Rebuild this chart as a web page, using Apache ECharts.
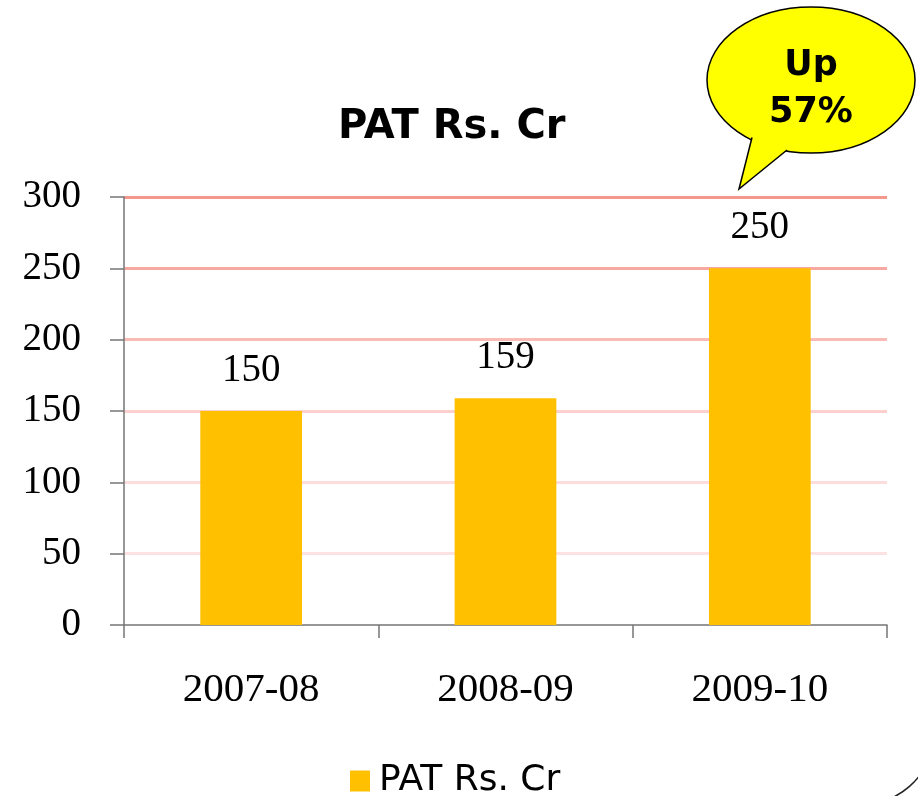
<!DOCTYPE html>
<html>
<head>
<meta charset="utf-8">
<script src="https://cdn.jsdelivr.net/npm/echarts@6/dist/echarts.min.js"></script>
<style>html,body{margin:0;padding:0;background:#fff;}#c{width:918px;height:796px;}</style>
</head>
<body>
<div id="c"></div>
<script>
var categories = ['2007-08', '2008-09', '2009-10'];
var patValues = [150, 159, 250];
var seriesName = 'PAT Rs. Cr';
var chartTitle = 'PAT Rs. Cr';
var calloutLines = ['Up', '57%'];
var yMin = 0, yMax = 300, yStep = 50;

var chart = echarts.init(document.getElementById('c'), null, {renderer: 'canvas'});
var option = {
  backgroundColor: '#ffffff',
  animation: false,
  title: {
    text: chartTitle,
    left: 333,
    top: 103,
    textStyle: {fontFamily: 'DejaVu Sans', fontWeight: 'bold', fontSize: 40, color: '#000'}
  },
  legend: {
    data: [seriesName],
    left: 350,
    top: 763,
    padding: 0,
    itemWidth: 20,
    itemHeight: 21,
    icon: 'rect',
    textStyle: {fontFamily: 'DejaVu Sans', fontSize: 36, color: '#000', padding: [0, 0, 0, 4]}
  },
  grid: {left: 124, right: 31, top: 197, bottom: 171, containLabel: false},
  xAxis: {
    type: 'category',
    data: categories,
    boundaryGap: true,
    axisLine: {show: true, lineStyle: {color: '#767676', width: 1.5}},
    axisTick: {show: true, length: 13, alignWithLabel: false, lineStyle: {color: '#767676', width: 1.5}},
    axisLabel: {margin: 45, fontFamily: 'Liberation Serif', fontSize: 41, color: '#000'},
    splitLine: {show: false}
  },
  yAxis: {
    type: 'value',
    min: yMin, max: yMax, interval: yStep,
    axisLine: {show: true, lineStyle: {color: '#767676', width: 1.5}},
    axisTick: {show: true, length: 14, lineStyle: {color: '#767676', width: 1.5}},
    axisLabel: {margin: 43, fontFamily: 'Liberation Serif', fontSize: 39, color: '#000'},
    splitLine: {
      show: true,
      lineStyle: {
        width: 3,
        color: ['#ffffff', '#FCE2E2', '#FCDCDC', '#FBD0CE', '#F9BBB5', '#F7A8A0', '#F4978C']
      }
    }
  },
  series: [{
    name: seriesName,
    type: 'bar',
    data: patValues,
    barWidth: '40%',
    itemStyle: {color: '#FFC000'},
    label: {
      show: true,
      position: 'top',
      distance: 21,
      fontFamily: 'Liberation Serif',
      fontSize: 39,
      color: '#000'
    }
  }],
  graphic: [
    {
      type: 'ellipse',
      shape: {cx: 811, cy: 80, rx: 104, ry: 73},
      style: {fill: '#FFFF00', stroke: '#000', lineWidth: 1.5},
      z: 100
    },
    {
      type: 'polygon',
      shape: {points: [[752, 130], [752, 137], [739, 189], [787, 150], [790, 140]]},
      style: {fill: '#FFFF00', stroke: null},
      z: 101
    },
    {
      type: 'polyline',
      shape: {points: [[752, 137.5], [739, 189], [787, 150]]},
      style: {stroke: '#000', lineWidth: 1.5, fill: null},
      z: 102
    },
    {
      type: 'text',
      style: {text: calloutLines[0], x: 811, y: 66, textAlign: 'center', textVerticalAlign: 'middle',
              font: 'bold 35px "DejaVu Sans"', fill: '#000'},
      z: 103
    },
    {
      type: 'text',
      style: {text: calloutLines[1], x: 811, y: 113, textAlign: 'center', textVerticalAlign: 'middle',
              font: 'bold 35px "DejaVu Sans"', fill: '#000'},
      z: 103
    },
    {
      type: 'arc',
      shape: {cx: 860, cy: 730, r: 75, startAngle: 0.4, endAngle: 1.3},
      style: {stroke: '#222', lineWidth: 1.5, fill: null},
      z: 50
    }
  ]
};
chart.setOption(option);
</script>
</body>
</html>
